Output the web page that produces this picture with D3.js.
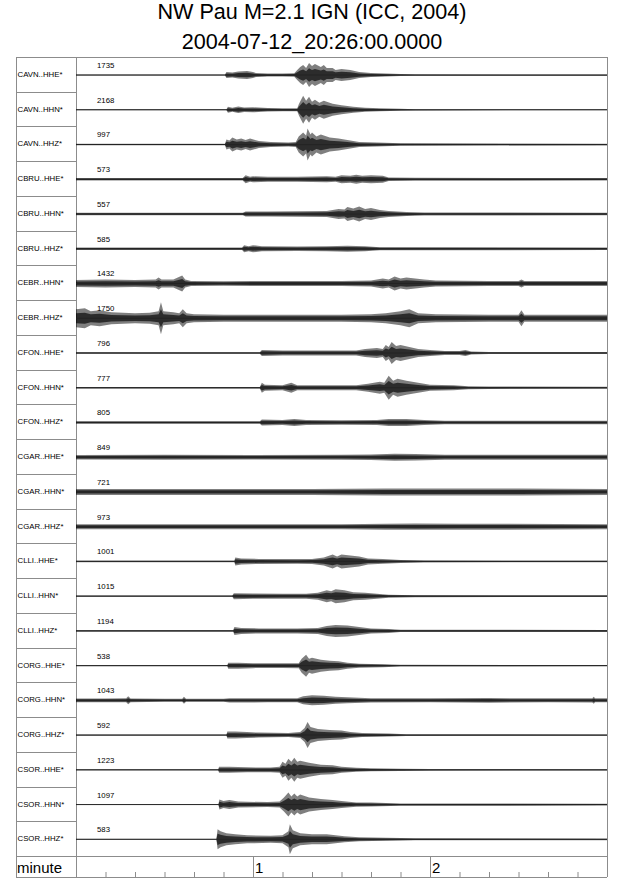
<!DOCTYPE html>
<html><head><meta charset="utf-8">
<script src="https://cdn.jsdelivr.net/npm/d3@7/dist/d3.min.js"></script>
<style>
html,body{margin:0;padding:0;background:#fff;}
svg{display:block;font-family:"Liberation Sans",Arial,Helvetica,sans-serif;}
</style></head>
<body>
<svg id="chart" width="640" height="878"></svg>
<script>
const titleLines = ["NW Pau M=2.1 IGN (ICC, 2004)", "2004-07-12_20:26:00.0000"];

const stations = ["CAVN..HHE*","CAVN..HHN*","CAVN..HHZ*","CBRU..HHE*","CBRU..HHN*","CBRU..HHZ*",
  "CEBR..HHN*","CEBR..HHZ*","CFON..HHE*","CFON..HHN*","CFON..HHZ*","CGAR..HHE*","CGAR..HHN*",
  "CGAR..HHZ*","CLLI..HHE*","CLLI..HHN*","CLLI..HHZ*","CORG..HHE*","CORG..HHN*","CORG..HHZ*",
  "CSOR..HHE*","CSOR..HHN*","CSOR..HHZ*"];

const maxCounts = [1735,2168,997,573,557,585,1432,1750,796,777,805,849,721,973,1001,1015,1194,538,1043,592,1223,1097,583];

// amplitude envelopes: [seconds after start, relative half-amplitude]
const envCAVN_HHE = [[0,0.5],[50.5,0.5],[51,3],[53,2.5],[55,3.5],[58,4],[60,3],[61,2],[65,1.5],[70,1.5],[74,1.8],[75,5],[76,8],[77,10],[78,7],[79,12],[80,9],[81,11],[83,8],[84,10],[85,7],[87,7],[88,5],[90,6],[93,5],[96,3],[100,2],[105,1.5],[110,1],[115,0.7],[180,0.6]];
const envCAVN_HHN = [[0,0.5],[51,0.5],[51.5,3],[53,2],[55,3.3],[57,2.2],[60,2.5],[65,1.8],[70,1.5],[75,1.5],[75.6,6],[77,14],[78,9],[79,13],[80,8],[81,10],[82.5,7],[84,9],[87,6],[90,4.5],[94,3],[98,2],[103,1.5],[110,1],[115,0.6],[180,0.5]];
const envCAVN_HHZ = [[0,0.8],[50.5,0.8],[51,5],[52,4],[53,7],[54.5,5],[56,6],[57.5,4.5],[59,6],[62,3.5],[66,2.5],[72,2],[74.5,2.5],[75.5,8],[77,12],[78,9],[78.5,16],[79.5,10],[80,12],[81.5,8],[83,10],[86,7],[89,6],[92,4.5],[96,2.5],[102,2],[110,1.2],[180,0.9]];
const envCBRU_HHE = [[0,1.2],[56.5,1.3],[57.5,4],[59,2.5],[60,3],[65,2.5],[75,2.5],[85,3],[88,2.5],[90,4],[93,3.5],[95,4.5],[97,3.5],[100,4],[104,3.5],[106,1.8],[115,1.5],[180,1.3]];
const envCBRU_HHN = [[0,1.3],[56.5,1.3],[57.5,2.5],[65,2.5],[75,2.7],[85,3],[89,5],[91,4.5],[92,7],[94,5.5],[96,7.5],[98,5],[100,6],[103,4],[106,3],[112,2],[118,1.5],[180,1.3]];
const envCBRU_HHZ = [[0,1.2],[56.3,1.2],[57,3.5],[58.5,2.5],[60,3.5],[63,2.5],[75,2.3],[85,2.5],[92,3],[98,2.5],[103,1.6],[180,1.3]];
const envCEBR_HHN = [[0,3.5],[10,4],[20,3.5],[27,4],[28,6],[29,4],[33,4],[36,8],[37,4],[39,2.5],[50,2.3],[60,2.5],[70,2.5],[80,2.5],[90,2.5],[100,3],[104,5],[106,4],[108,7],[110,5],[112,6],[118,4],[122,3],[140,2.5],[150,2.5],[151,4],[152,2.5],[180,2.6]];
const envCEBR_HHZ = [[0,9],[3,10],[5,7],[8,8],[12,6],[20,5],[25,5.5],[28,7],[28.8,16],[29.6,7],[33,6],[35,5],[36.2,9],[37.5,5],[40,4],[50,3.5],[70,3.5],[90,3.5],[100,4],[105,5],[110,7],[113,9],[116,5],[122,4],[140,3.5],[150,3.5],[151,8],[152,3.5],[180,3.5]];
const envCFON_HHE = [[0,0.8],[62.3,0.8],[63,3],[70,2.5],[80,2.5],[90,2.5],[95,2.5],[98,4],[102,5],[104,4],[105,8],[106,6],[107,11],[108.5,7],[110,8],[113,6],[116,4],[120,3],[125,2],[130,2],[132,3],[134,1.5],[140,1],[180,0.9]];
const envCFON_HHN = [[0,0.8],[62.3,0.8],[63,5],[64,3],[70,2.5],[73,5],[75,2.5],[85,2.5],[95,2.5],[99,4],[103,6],[104.5,5],[106,12],[107.5,7],[109,9],[112,7],[116,5],[120,3],[128,2.5],[133,1.5],[140,1.2],[180,1]];
const envCFON_HHZ = [[0,1.3],[62.3,1.3],[63,3],[70,2.5],[74,3.5],[78,2.5],[90,2.2],[102,2.5],[106,3.5],[112,3.5],[118,2.5],[125,1.8],[180,1.8]];
const envCGAR_HHE = [[0,2.3],[30,2.5],[60,2.3],[90,2.5],[100,2.8],[108,3.5],[115,3.2],[125,2.5],[150,2.5],[180,2.5]];
const envCGAR_HHN = [[0,3],[40,3],[80,3],[105,3.5],[130,3.5],[150,3.5],[180,3]];
const envCGAR_HHZ = [[0,2.5],[40,2.5],[60,2.5],[90,2.5],[105,3],[115,3.2],[130,3],[145,3],[180,2.5]];
const envCLLI_HHE = [[0,0.8],[53.7,0.8],[54,4],[56,3],[62,2.5],[75,2.3],[80,2.5],[84,4],[85.5,5.5],[87,7],[88.5,5],[90,7],[93,6],[96,5],[99,3],[104,2.3],[110,1.5],[118,1],[180,0.8]];
const envCLLI_HHN = [[0,0.7],[53,0.7],[53.5,3],[60,2.7],[70,2.5],[78,2.5],[82,3.5],[85,6],[86.5,5],[88,7],[91,6],[94,4],[98,3.5],[102,2.5],[106,1.5],[115,1],[180,0.8]];
const envCLLI_HHZ = [[0,0.8],[53.3,0.8],[53.7,4],[56,3],[62,2.5],[75,2.5],[82,3],[85,5],[88,6],[92,5.5],[96,4],[100,2.5],[106,2],[110,1.2],[180,1]];
const envCORG_HHE = [[0,0.5],[51.3,0.5],[51.6,3],[55,3],[60,2.5],[70,2.3],[75.5,2.5],[76.5,7],[78,11],[79,7],[80,8],[83,6],[86,5],[89,4.5],[92,3],[96,2],[104,1.5],[110,0.8],[180,0.7]];
const envCORG_HHN = [[0,1.8],[10,1.8],[17,2],[17.7,4],[18.5,1.8],[30,1.5],[36,1.5],[36.6,3.5],[37.3,1.5],[50,1.5],[52,2.2],[65,2],[75,2],[77,4],[80,5],[84,4.5],[88,3.5],[92,3],[100,2.2],[120,2],[140,2.3],[160,2],[175,2.2],[175.5,3.5],[176,2],[180,2]];
const envCORG_HHZ = [[0,0.5],[51,0.5],[51.3,3.5],[54,3.5],[58,3],[62,2.5],[72,2],[76,3],[77.5,7],[78.5,13],[79.5,8],[82,6],[86,5],[90,4.5],[93,3],[97,2],[106,1.5],[112,0.8],[180,0.7]];
const envCSOR_HHE = [[0,0.5],[48.2,0.5],[48.5,3],[52,3],[58,2.5],[66,2.3],[69,3],[70,8],[71,6],[72,11],[73,8],[74,12],[75,8],[76,9],[79,7],[83,5],[87,4.5],[90,3],[95,2],[100,1.5],[110,1.2],[120,0.8],[180,0.7]];
const envCSOR_HHN = [[0,0.5],[48.3,0.5],[48.6,5],[50,3.5],[52,4.5],[55,3],[65,2.5],[69,3],[70.5,7],[72,12],[73,8],[74,11],[75,8],[76,10],[79,7],[83,5.5],[87,4.5],[90,3.5],[95,2.2],[100,2],[110,1.2],[180,0.9]];
const envCSOR_HHZ = [[0,0.5],[47.6,0.5],[48,10],[49,8],[51,6],[54,5],[58,4],[66,3.5],[70,4],[72,8],[72.5,15],[73.5,9],[76,6],[80,5],[85,5],[88,4],[91,3],[96,2],[105,1.5],[115,1],[180,0.8]];

const envelopes = [envCAVN_HHE,envCAVN_HHN,envCAVN_HHZ,envCBRU_HHE,envCBRU_HHN,envCBRU_HHZ,
  envCEBR_HHN,envCEBR_HHZ,envCFON_HHE,envCFON_HHN,envCFON_HHZ,envCGAR_HHE,envCGAR_HHN,envCGAR_HHZ,
  envCLLI_HHE,envCLLI_HHN,envCLLI_HHZ,envCORG_HHE,envCORG_HHN,envCORG_HHZ,envCSOR_HHE,envCSOR_HHN,envCSOR_HHZ];

const minorTicks = d3.range(0, 181, 10);
const majorTicks = [60, 120];
const majorLabels = ["1", "2"];

const svg = d3.select("#chart");
const panelL = 16, traceL = 76, traceR = 607, plotTop = 57, axisTop = 856, axisBot = 877;
const border = "#8c8c8c";

const x = d3.scaleLinear().domain([0, 180]).range([traceL, traceR]);
const row = d3.scaleBand().domain(stations).range([plotTop, axisTop]).padding(0);
const amp = d3.scaleLinear().domain([-17, 17]).range([17, -17]);
const ampCore = d3.scaleLinear().domain([-17, 17]).range([9.5, -9.5]);
const bw = row.bandwidth();
const baseOff = bw * 0.52;

// title
svg.selectAll("text.title").data(titleLines).join("text")
  .attr("class","title")
  .attr("x", 312).attr("y", (d,i) => 19 + i*29.5)
  .attr("text-anchor","middle").attr("font-size", 21.6).attr("fill","#000")
  .text(d => d);

// frame
const g = svg.append("g");
g.append("line").attr("x1",panelL).attr("x2",traceR).attr("y1",plotTop+0.5).attr("y2",plotTop+0.5).attr("stroke",border);
g.append("line").attr("x1",panelL).attr("x2",traceR).attr("y1",axisTop+0.5).attr("y2",axisTop+0.5).attr("stroke",border);
g.append("line").attr("x1",panelL).attr("x2",traceR).attr("y1",axisBot+0.5).attr("y2",axisBot+0.5).attr("stroke",border);
g.append("line").attr("x1",panelL+0.5).attr("x2",panelL+0.5).attr("y1",plotTop).attr("y2",axisBot).attr("stroke",border);
g.append("line").attr("x1",traceL+0.5).attr("x2",traceL+0.5).attr("y1",plotTop).attr("y2",axisBot).attr("stroke",border);
g.append("line").attr("x1",traceR+0.5).attr("x2",traceR+0.5).attr("y1",plotTop).attr("y2",axisBot).attr("stroke",border);
g.selectAll("line.sep").data(stations.slice(1)).join("line").attr("class","sep")
  .attr("x1",panelL).attr("x2",traceL)
  .attr("y1",d => Math.round(row(d))+0.5).attr("y2",d => Math.round(row(d))+0.5)
  .attr("stroke",border);

// labels
svg.selectAll("text.sta").data(stations).join("text").attr("class","sta")
  .attr("x", 17.5).attr("y", d => row(d) + 20)
  .attr("font-size", 7.8).attr("fill","#000").text(d => d);
svg.selectAll("text.cnt").data(maxCounts).join("text").attr("class","cnt")
  .attr("x", 97).attr("y", (d,i) => row(stations[i]) + 11)
  .attr("font-size", 7.8).attr("fill","#000").text(d => d);

// traces: outer envelope (light) + dense core (dark)
const area = d3.area().x(d => x(d[0]));
const traces = svg.append("g");
envelopes.forEach((env, i) => {
  const base = row(stations[i]) + baseOff;
  traces.append("path")
    .attr("d", area.y0(d => base + amp(-d[1])).y1(d => base + amp(d[1]))(env))
    .attr("fill", "#000").attr("fill-opacity", 0.5);
  traces.append("path")
    .attr("d", area.y0(d => base + ampCore(-d[1])).y1(d => base + ampCore(d[1]))(env))
    .attr("fill", "#000").attr("fill-opacity", 0.65);
  traces.append("line")
    .attr("x1", x(0)).attr("x2", x(180)).attr("y1", base).attr("y2", base)
    .attr("stroke","#222").attr("stroke-width",0.8);
});

// bottom axis
const ax = svg.append("g").attr("transform", `translate(0,${axisBot})`)
  .call(d3.axisTop(x).tickValues(minorTicks).tickSize(5).tickFormat(""));
ax.select(".domain").remove();
ax.selectAll(".tick line").attr("stroke", border);
svg.selectAll("line.major").data(majorTicks).join("line").attr("class","major")
  .attr("x1", d => x(d)+0.5).attr("x2", d => x(d)+0.5)
  .attr("y1", axisTop).attr("y2", axisBot).attr("stroke", border);
svg.selectAll("text.maj").data(majorTicks).join("text").attr("class","maj")
  .attr("x", d => x(d) + 2).attr("y", 873)
  .attr("font-size", 15).attr("fill","#000").text((d,i) => majorLabels[i]);
svg.append("text").attr("x", 17).attr("y", 873).attr("font-size", 15).attr("fill","#000").text("minute");
</script>
</body></html>
